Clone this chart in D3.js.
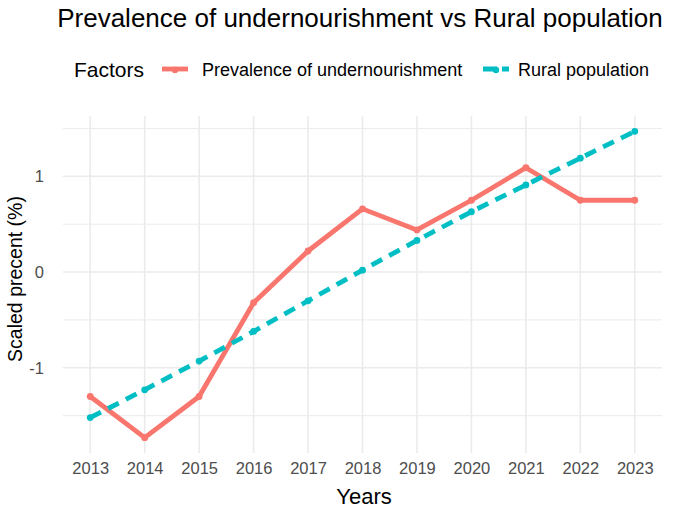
<!DOCTYPE html>
<html><head><meta charset="utf-8">
<script src="https://cdn.jsdelivr.net/npm/d3@7"></script>
<style>body{margin:0;background:#fff}svg{font-family:"Liberation Sans",Arial,sans-serif}</style>
</head><body><svg id="c" width="674" height="513"></svg>
<script>
const years = [2013,2014,2015,2016,2017,2018,2019,2020,2021,2022,2023];
const prevalence = [-1.30,-1.73,-1.30,-0.32,0.22,0.66,0.44,0.75,1.09,0.75,0.75];
const rural = [-1.52,-1.23,-0.93,-0.62,-0.30,0.02,0.33,0.63,0.91,1.19,1.47];
const yTicks = [-1,0,1];
const yMinor = [-1.5,-0.5,0.5,1.5];
const seriesNames = ["Prevalence of undernourishment","Rural population"];
const colors = ["#F8766D","#00BFC4"];

const svg = d3.select("#c");
const L=63, R=662, T=116, B=453;
const x = d3.scaleLinear().domain([2012.5,2023.5]).range([L,R]);
const y = d3.scaleLinear().domain([-1.89,1.63]).range([B,T]);

const g = svg.append("g");
g.selectAll(".ym").data(yMinor).join("line").attr("x1",L).attr("x2",R)
 .attr("y1",d=>y(d)).attr("y2",d=>y(d)).attr("stroke","#ebebeb").attr("stroke-width",1);
g.selectAll(".yM").data(yTicks).join("line").attr("x1",L).attr("x2",R)
 .attr("y1",d=>y(d)).attr("y2",d=>y(d)).attr("stroke","#ebebeb").attr("stroke-width",1.6);
g.selectAll(".xM").data(years).join("line").attr("y1",T).attr("y2",B)
 .attr("x1",d=>x(d)).attr("x2",d=>x(d)).attr("stroke","#ebebeb").attr("stroke-width",1.6);

const xa = d3.axisBottom(x).tickValues(years).tickFormat(d=>String(d)).tickSize(0).tickPadding(0);
const xg = svg.append("g").attr("transform",`translate(0,${B+9})`).call(xa);
xg.select(".domain").remove();
xg.selectAll("text").attr("fill","#4d4d4d").attr("font-size",16.5).attr("dy","0.71em");
const ya = d3.axisLeft(y).tickValues(yTicks).tickFormat(d=>String(d)).tickSize(0).tickPadding(0);
const yg = svg.append("g").attr("transform",`translate(${L-19},0)`).call(ya);
yg.select(".domain").remove();
yg.selectAll("text").attr("fill","#4d4d4d").attr("font-size",16.5);

const data = [prevalence, rural];
const line = d3.line().x((d,i)=>x(years[i])).y(d=>y(d));
data.forEach((s,k)=>{
  svg.append("path").datum(s).attr("d",line).attr("fill","none")
    .attr("stroke",colors[k]).attr("stroke-width",4.8)
    .attr("stroke-dasharray",k===1?"12,8":null).attr("stroke-linejoin","round");
  svg.selectAll(".p"+k).data(s).join("circle").attr("cx",(d,i)=>x(years[i])).attr("cy",d=>y(d))
    .attr("r",3.4).attr("fill",colors[k]);
});

svg.append("text").attr("x",360).attr("y",27).attr("text-anchor","middle")
  .attr("font-size",26).attr("fill","#000").text("Prevalence of undernourishment vs Rural population");
svg.append("text").attr("x",364).attr("y",504).attr("text-anchor","middle")
  .attr("font-size",22).attr("fill","#000").text("Years");
svg.append("text").attr("transform",`translate(22,279) rotate(-90)`).attr("text-anchor","middle")
  .attr("font-size",19.5).attr("fill","#000").text("Scaled precent (%)");

const ly=69;
svg.append("text").attr("x",74).attr("y",77).attr("font-size",21).attr("fill","#000").text("Factors");
const keyX=[162,483], txtX=[202,518];
seriesNames.forEach((n,k)=>{
  svg.append("line").attr("x1",keyX[k]).attr("x2",keyX[k]+26).attr("y1",ly).attr("y2",ly)
    .attr("stroke",colors[k]).attr("stroke-width",4.8).attr("stroke-dasharray",k===1?"14,5":null);
  svg.append("circle").attr("cx",keyX[k]+13).attr("cy",ly+1).attr("r",3.2).attr("fill",colors[k]);
  svg.append("text").attr("x",txtX[k]).attr("y",76).attr("font-size",18).attr("fill","#000").text(n);
});
</script></body></html>
